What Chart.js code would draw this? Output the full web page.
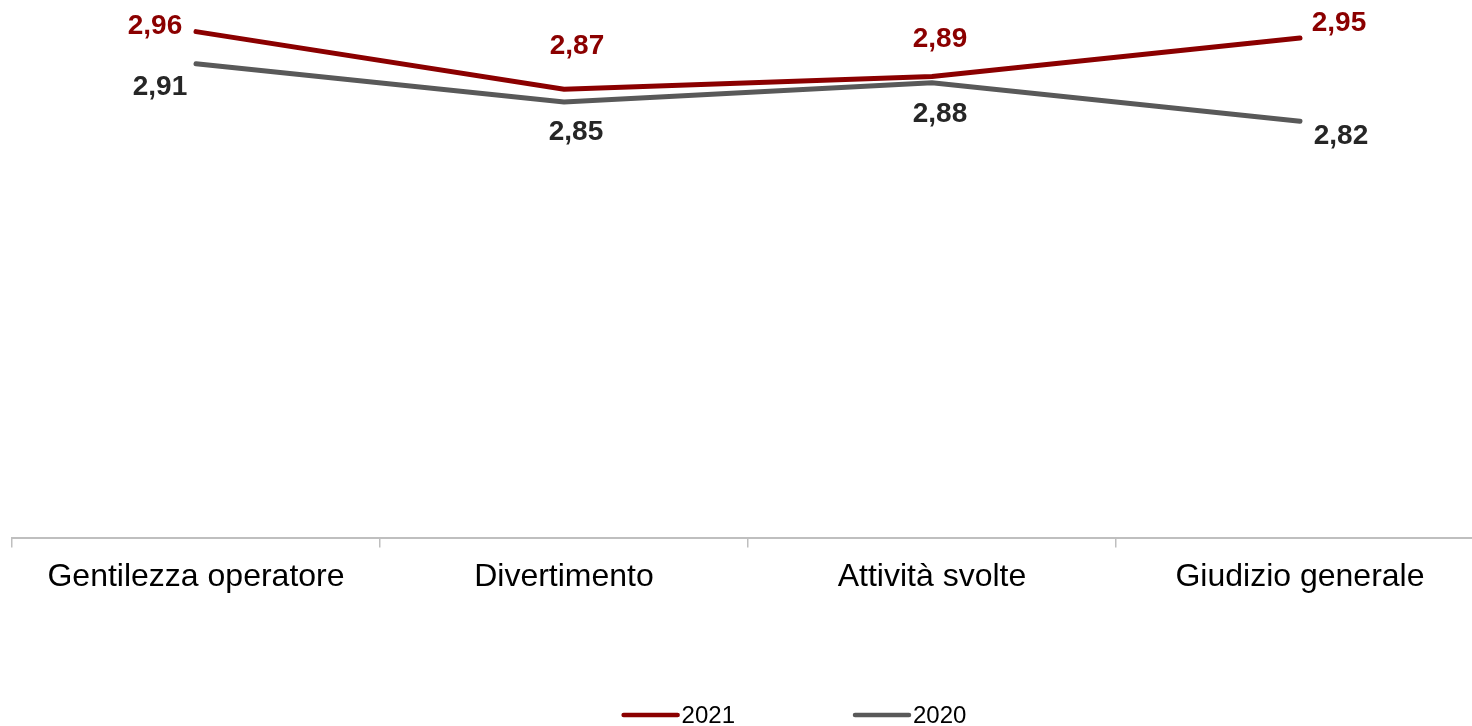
<!DOCTYPE html>
<html>
<head>
<meta charset="utf-8">
<script src="https://cdn.jsdelivr.net/npm/chart.js@4.4.1/dist/chart.umd.min.js"></script>
<style>
    html, body { margin: 0; padding: 0; background: #fff; overflow: hidden; }
    #wrap { width: 1588px; height: 726px; }
</style>
</head>
<body>
<div id="wrap"><canvas id="chart" width="1588" height="726"></canvas></div>
<script>
// chart values
const categories = ['Gentilezza operatore', 'Divertimento', 'Attività svolte', 'Giudizio generale'];
const values2021 = [2.96, 2.87, 2.89, 2.95];
const values2020 = [2.91, 2.85, 2.88, 2.82];
const seriesNames = ['2021', '2020'];

// where each value label sits relative to its point (dx, dy)
const offsets2021 = [[-41, -5], [13, -43], [8, -37], [39, -15]];
const offsets2020 = [[-36, 24], [12, 30], [8, 31], [41, 15]];

const red = '#8b0000';
const grey = '#595959';

const valueLabels = {
    id: 'valueLabels',
    afterDatasetsDraw(chart) {
        const ctx = chart.ctx;
        ctx.save();
        ctx.font = 'bold 28px "Liberation Sans", Arial, sans-serif';
        ctx.textAlign = 'center';
        ctx.textBaseline = 'middle';
        chart.data.datasets.forEach((ds, i) => {
            const meta = chart.getDatasetMeta(i);
            ctx.fillStyle = ds.labelColor;
            meta.data.forEach((pt, j) => {
                const off = ds.labelOffsets[j];
                const txt = ds.data[j].toFixed(2).replace('.', ',');
                ctx.fillText(txt, pt.x + off[0], pt.y + off[1]);
            });
        });
        ctx.restore();
    }
};

// simple line legend, centred on the canvas
const lineLegend = {
    id: 'lineLegend',
    afterDraw(chart) {
        const ctx = chart.ctx;
        const y = 715;
        const lineLen = 58;
        const gap = 2;
        const spacing = 118;
        ctx.save();
        ctx.font = '24px "Liberation Sans", Arial, sans-serif';
        ctx.textBaseline = 'middle';
        const items = chart.data.datasets.map(ds => ({
            text: ds.label,
            color: ds.borderColor,
            w: lineLen + gap + ctx.measureText(ds.label).width
        }));
        const total = items.reduce((s, it) => s + it.w, 0) + spacing * (items.length - 1);
        let x = chart.width / 2 - total / 2;
        items.forEach(it => {
            ctx.strokeStyle = it.color;
            ctx.lineWidth = 4.5;
            ctx.lineCap = 'round';
            ctx.beginPath();
            ctx.moveTo(x + 2, y);
            ctx.lineTo(x + lineLen - 2, y);
            ctx.stroke();
            ctx.fillStyle = '#000';
            ctx.fillText(it.text, x + lineLen + gap, y + 1);
            x += it.w + spacing;
        });
        ctx.restore();
    }
};

new Chart(document.getElementById('chart'), {
    type: 'line',
    data: {
        labels: categories,
        datasets: [
            {
                label: seriesNames[0],
                data: values2021,
                borderColor: red,
                backgroundColor: red,
                borderWidth: 5,
                borderCapStyle: 'round',
                pointRadius: 0,
                tension: 0,
                labelColor: red,
                labelOffsets: offsets2021
            },
            {
                label: seriesNames[1],
                data: values2020,
                borderColor: grey,
                backgroundColor: grey,
                borderWidth: 5,
                borderCapStyle: 'round',
                pointRadius: 0,
                tension: 0,
                labelColor: '#262626',
                labelOffsets: offsets2020
            }
        ]
    },
    options: {
        responsive: false,
        animation: false,
        layout: { padding: { left: 12, right: 104, top: 6, bottom: 120 } },
        plugins: {
            legend: { display: false },
            tooltip: { enabled: false }
        },
        scales: {
            x: {
                offset: true,
                grid: {
                    offset: true,
                    drawOnChartArea: false,
                    drawTicks: true,
                    tickLength: 10,
                    color: '#bfbfbf',
                    lineWidth: 1.5
                },
                border: { color: '#bfbfbf', width: 2 },
                ticks: {
                    color: '#000',
                    padding: 10,
                    font: { family: '"Liberation Sans", Arial, sans-serif', size: 32 }
                }
            },
            y: {
                display: false,
                min: 2.17,
                max: 3.0
            }
        }
    },
    plugins: [valueLabels, lineLegend]
});
</script>
</body>
</html>
